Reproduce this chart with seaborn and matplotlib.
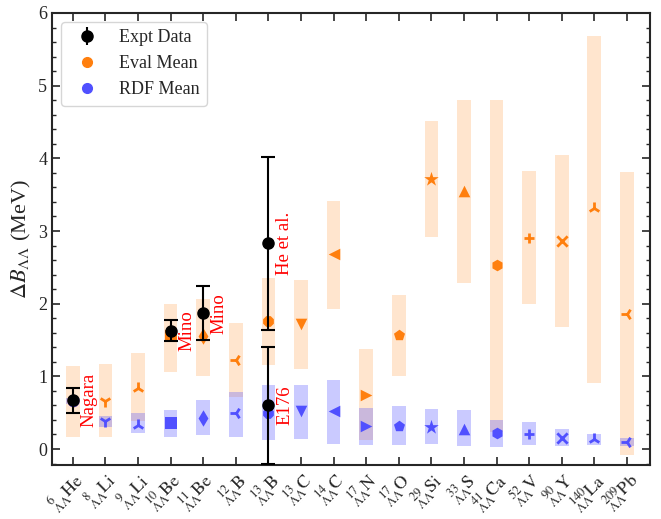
import numpy as np
import pandas as pd
import matplotlib
matplotlib.use("Agg")
import matplotlib.pyplot as plt
from matplotlib.lines import Line2D
from matplotlib.ticker import MultipleLocator
import seaborn as sns

# ---------------- data ----------------
mass = ["6", "8", "9", "10", "11", "12", "13", "13", "14", "17", "17", "29", "33", "41", "52", "90", "140", "209"]
elem = ["He", "Li", "Li", "Be", "Be", "B", "B", "C", "C", "N", "O", "Si", "S", "Ca", "V", "Y", "La", "Pb"]
markers = ["o", "1", "2", "s", "d", "3", "8", "v", "<", ">", "p", "*", "^", "h", "+", "x", "2", "3"]

eval_mean = [0.66, 0.665, 0.84, 1.55, 1.56, 1.23, 1.76, 1.72, 2.68, 0.75, 1.565, 3.72, 3.55, 2.53, 2.91, 2.86, 3.31, 1.86]
eval_lo = [0.16, 0.16, 0.38, 1.06, 1.01, 0.72, 1.15, 1.10, 1.92, 0.12, 1.01, 2.92, 2.29, 0.24, 1.99, 1.675, 0.91, -0.08]
eval_hi = [1.14, 1.17, 1.32, 1.99, 2.07, 1.73, 2.36, 2.33, 3.41, 1.37, 2.12, 4.52, 4.80, 4.80, 3.82, 4.04, 5.69, 3.81]

rdf_mean = [0.66, 0.38, 0.335, 0.36, 0.43, 0.49, 0.50, 0.52, 0.52, 0.32, 0.32, 0.31, 0.27, 0.22, 0.21, 0.15, 0.14, 0.10]
rdf_lo = [0.62, 0.30, 0.22, 0.165, 0.19, 0.17, 0.13, 0.14, 0.07, 0.06, 0.06, 0.07, 0.035, 0.03, 0.06, 0.045, 0.05, 0.045]
rdf_hi = [0.70, 0.45, 0.49, 0.54, 0.68, 0.78, 0.88, 0.88, 0.95, 0.565, 0.59, 0.55, 0.54, 0.40, 0.37, 0.27, 0.21, 0.15]

expt_idx = [0, 3, 4, 6, 6]
expt_val = [0.67, 1.63, 1.87, 2.83, 0.60]
expt_err = [0.17, 0.14, 0.37, 1.19, 0.80]
expt_lab = ["Nagara", "Mino", "Mino", "He et al.", "E176"]

labels = [r"$^{%s}_{\Lambda\Lambda}\mathrm{%s}$" % (m, e) for m, e in zip(mass, elem)]

ORANGE = "#ff7f0e"
BLUE = "#5050ff"

# ---------------- style ----------------
sns.set_style("ticks")
plt.rcParams["font.family"] = ["Liberation Serif", "DejaVu Serif"]
plt.rcParams["mathtext.fontset"] = "stix"
plt.rcParams["xtick.direction"] = "in"
plt.rcParams["ytick.direction"] = "in"

fig = plt.figure(figsize=(6.61, 5.19), dpi=100)
ax = fig.add_axes([0.079, 0.104, 0.904, 0.871])

x = np.arange(len(labels))

# bands
w = 0.42
ax.bar(x, np.array(eval_hi) - np.array(eval_lo), bottom=eval_lo, width=w,
       color=ORANGE, alpha=0.2, linewidth=0, zorder=1)
ax.bar(x, np.array(rdf_hi) - np.array(rdf_lo), bottom=rdf_lo, width=w,
       color=BLUE, alpha=0.3, linewidth=0, zorder=2)

# mean markers via seaborn (one call per marker shape)
line_art = {"1", "2", "3", "4", "+", "x"}
for xi, ev, rv, m in zip(x, eval_mean, rdf_mean, markers):
    for val, col in ((ev, ORANGE), (rv, BLUE)):
        if m in line_art:
            size = 55 if m in ("+", "x") else 75
            sns.scatterplot(x=[xi], y=[val], marker=m, color=col, s=size,
                            linewidth=2.0, legend=False, ax=ax, zorder=3)
        else:
            size = 120 if m == "*" else 70
            sns.scatterplot(x=[xi], y=[val], marker=m, color=col, s=size,
                            linewidth=0, legend=False, ax=ax, zorder=3)

# experimental data
ax.errorbar(expt_idx, expt_val, yerr=expt_err, fmt="o", color="black", ms=8,
            capsize=5, elinewidth=1.5, capthick=1.5, zorder=5)
for i, v, t in zip(expt_idx, expt_val, expt_lab):
    ax.text(i + 0.5, v, t, color="red", rotation=90, ha="center", va="center",
            fontsize=13.5, zorder=6)

# axes
ax.set_xlim(-0.63, 17.7)
ax.set_ylim(-0.22, 6)
ax.set_xticks(x)
ax.set_xticklabels(labels, rotation=45, ha="right", rotation_mode="anchor", fontsize=13)
ax.yaxis.set_major_locator(MultipleLocator(1))
ax.yaxis.set_minor_locator(MultipleLocator(0.2))
ax.tick_params(axis="both", which="both", top=True, right=True, direction="in")
ax.tick_params(axis="y", which="major", length=6, width=1.2, labelsize=13)
ax.tick_params(axis="y", which="minor", length=3, width=1)
ax.tick_params(axis="x", which="major", length=6, width=1.2, pad=3)
for sp in ax.spines.values():
    sp.set_linewidth(1.5)
ax.set_xlabel("")
ax.set_ylabel(r"$\Delta B_{\Lambda\Lambda}$ (MeV)", fontsize=16)

handles = [
    ax.errorbar([], [], yerr=[], fmt="o", color="black", ms=8, capsize=5,
                elinewidth=1.5, capthick=1.5),
    Line2D([], [], marker="o", color=ORANGE, linestyle="none", ms=7),
    Line2D([], [], marker="o", color=BLUE, linestyle="none", ms=7),
]
ax.legend(handles, ["Expt Data", "Eval Mean", "RDF Mean"], loc="upper left",
          fontsize=13, frameon=True, fancybox=True, framealpha=0.8,
          borderaxespad=0.5)

fig.savefig("out.png", dpi=100)
